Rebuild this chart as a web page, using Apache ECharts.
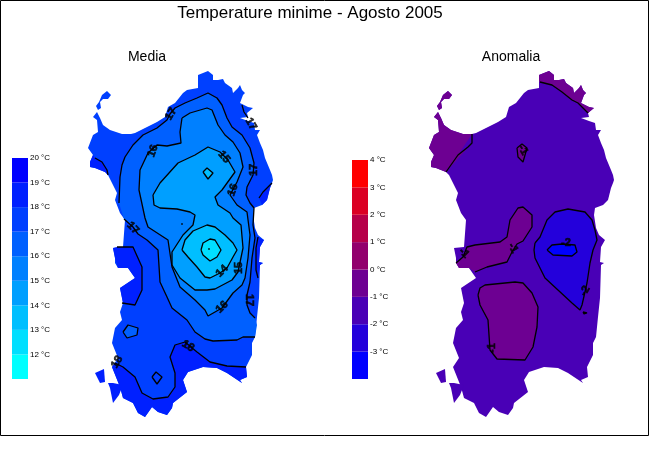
<!DOCTYPE html>
<html>
<head>
<meta charset="utf-8">
<style>html,body{margin:0;padding:0;background:#fff}#chart{width:650px;height:450px}</style>
<script src="https://cdn.jsdelivr.net/npm/echarts@6/dist/echarts.min.js"></script>
</head>
<body>
<div id="chart"></div>
<script>
// colour scales
const mediaLevels = [11, 12, 13, 14, 15, 16, 17, 18, 19, 20];
const mediaColors = ['#00ffff', '#00dfff', '#00bfff', '#009fff', '#0080ff', '#0060ff', '#0040ff', '#0020ff', '#0000ff'];
const anomLevels = [-4, -3, -2, -1, 0, 1, 2, 3, 4];
const anomColors = ['#0000ff', '#2400db', '#4900b6', '#6d0092', '#92006d', '#b60049', '#db0024', '#ff0000'];

// coastline (x, y in picture pixels)
const coastNW = [[105,172],[95,168],[90,167],[90,162],[93,155],[88,148],[93,135],[98,132],[97,120],[93,117],[97,112],[100,118],[103,125],[110,130],[122,134],[131,134]];
const coastN1 = [[135,133],[145,128],[157,122],[165,117],[168,107],[175,103],[183,93],[187,90],[198,88]];
const coastN = [[198,82],[198,75],[203,73],[208,71],[213,75],[213,80],[218,80],[223,79],[225,83],[232,88],[233,93],[238,88],[240,85],[242,90],[245,93],[243,95],[240,103],[248,107],[253,108],[247,113]];
const coastE = [[248,117],[240,118],[248,121],[254,123],[255,130],[260,130],[257,135],[260,143],[263,150],[265,158],[270,170],[272,175],[273,180],[272,183],[270,188],[267,200],[262,205],[254,208],[253,215],[255,228],[258,235],[264,240],[260,247],[259,262],[263,263],[260,265],[259,298],[257,317],[255,337],[252,343],[252,355]];
const coastS = [[246,367],[247,377],[240,380],[242,383],[227,373],[217,368],[203,367],[188,372],[183,380],[187,392],[173,403],[172,408],[167,415],[158,412],[152,407],[145,417],[138,413],[133,403],[123,398],[120,387],[112,367]];
const coastW = [[118,358],[112,343],[115,328],[122,320],[120,312],[123,303],[120,288],[135,278],[128,268],[118,268],[115,263],[115,258],[113,248],[123,247],[125,220],[120,213],[115,200],[117,193],[108,175]];
const asinara = [[107,91],[111,95],[108,99],[103,99],[100,102],[101,108],[98,110],[96,106],[99,102],[102,95]];
const santAntioco = [[108,383],[113,383],[123,385],[119,395],[113,403],[110,388]];
const sanPietro = [[95,373],[104,369],[105,382],[100,383]];
const island = [...coastNW, ...coastN1, ...coastN, ...coastE, ...coastS, ...coastW];

// contours of the mean
const c17North = [[119,203],[120,177],[122,165],[125,157],[133,145],[143,135],[157,128],[167,120],[170,114],[175,108],[185,103],[197,98],[208,93],[217,98],[222,105],[227,118],[232,127],[242,135],[250,148],[254,163],[253,175],[247,187],[246,195],[250,203],[254,208],[253,225],[255,238],[252,258],[250,282],[247,295],[247,305],[250,313],[255,318]];
const c17South = [[124,219],[133,227],[138,234],[147,240],[158,250],[160,282],[167,297],[172,308],[187,320],[195,332],[205,339],[213,341],[237,340],[243,337],[255,337]];
const c18South = [[115,363],[123,367],[135,377],[142,393],[153,399],[168,397],[175,387],[175,373],[170,357],[175,345],[185,342],[197,352],[210,362],[227,366],[246,367]];
const c18Gulf = [[117,247],[133,247],[142,267],[142,290],[135,305],[122,303]];
const c18Corner = [[95,158],[102,162],[107,170],[108,175]];
const c18East1 = [[259,198],[263,192],[272,183]];
const c18East2 = [[258,237],[256,248],[256,270],[258,278]];
const c18NorthEast = [[242,105],[244,112],[248,118]];
const c17Blob = [[123,332],[128,325],[138,328],[137,335],[127,338]];
const c18Diamond = [[152,377],[156,372],[162,377],[157,384]];
const c16Ring = [[182,118],[190,113],[207,108],[212,110],[218,125],[225,135],[233,142],[240,153],[243,167],[237,182],[230,195],[237,205],[247,212],[250,235],[248,258],[245,278],[242,285],[233,293],[222,308],[208,316],[205,310],[195,300],[180,287],[172,267],[168,240],[148,227],[145,218],[139,190],[140,170],[148,153],[157,145],[167,146],[181,143],[180,132]];
const c15Ring = [[153,195],[160,183],[178,163],[195,155],[208,147],[220,152],[228,160],[235,172],[222,190],[215,197],[218,205],[230,213],[233,218],[241,225],[243,248],[238,272],[232,280],[215,289],[207,290],[195,290],[180,278],[172,265],[172,252],[183,235],[193,225],[195,215],[190,212],[177,209],[160,208],[154,205]];
const c14Diamond = [[203,172],[207,168],[213,173],[208,179]];
const c14Ring = [[182,250],[185,240],[193,231],[207,225],[215,227],[225,235],[233,243],[237,250],[233,257],[227,268],[220,273],[210,278],[205,277],[197,267],[188,257]];
const c13Ring = [[201,250],[203,243],[210,239],[215,240],[221,250],[217,257],[210,261],[203,255]];
const mediaDots = [[209,249],[182,224]];

// contours of the anomaly
const a1NorthWest = [[131,134],[131,143],[127,147],[117,155],[105,172]];
const a1North = [[199,82],[211,85],[221,92],[231,100],[237,103],[242,108],[247,113]];
const a1Centre = [[176,148],[181,144],[186,148],[184,155],[182,162],[177,157]];
const a1Band = [[115,263],[122,257],[126,247],[134,245],[159,242],[166,237],[169,220],[177,208],[182,207],[191,215],[191,227],[182,241],[176,244],[171,252],[166,262],[146,267],[134,272]];
const a1South = [[137,295],[139,288],[144,285],[174,282],[182,283],[191,293],[197,307],[196,327],[192,347],[184,360],[156,359],[149,350],[147,320],[139,305]];
const a2Ring = [[194,243],[199,237],[206,220],[214,212],[227,209],[244,212],[251,220],[254,230],[256,240],[252,250],[249,263],[246,283],[241,305],[239,310],[231,303],[204,278],[194,258],[193,250]];
const a3Ring = [[206,250],[211,245],[221,244],[234,245],[236,252],[231,256],[212,255]];
const a2Tiny = [[242,312],[246,313],[243,314]];

// contour labels: x, y, text, rotation
const mediaLabels = [[171,114,'17',60],[153,151,'16',70],[224,157,'15',-50],[233,190,'16',70],[254,170,'17',90],[251,124,'17',-60],[133,228,'17',-45],[222,271,'14',45],[239,268,'15',90],[222,307,'16',45],[249,300,'17',-90],[188,346,'18',-30],[117,362,'18',60]];
const anomLabels = [[182,150,'-1',-60],[123,253,'-1',-45],[172,248,'-1',-60],[225,243,'-2',0],[244,291,'-2',60],[151,348,'-1',90]];

const closed = (pts) => [...pts, pts[0]];
const series = [];

function addFill(pts, color, idx) {
  series.push({
    type: 'custom', xAxisIndex: idx, yAxisIndex: idx, silent: true, clip: false,
    data: [pts[0]],
    renderItem: (params, api) => ({
      type: 'polygon',
      shape: { points: pts.map((p) => api.coord(p)) },
      style: { fill: color, stroke: null },
    }),
  });
}

function addLine(pts, idx) {
  series.push({
    type: 'line', xAxisIndex: idx, yAxisIndex: idx, silent: true, clip: false, showSymbol: false,
    lineStyle: { color: '#000', width: 1.3 },
    data: pts,
  });
}

function addLabels(labels, idx) {
  series.push({
    type: 'scatter', xAxisIndex: idx, yAxisIndex: idx, silent: true, clip: false, symbolSize: 0,
    data: labels.map((l) => ({
      value: [l[0], l[1]],
      label: {
        show: true, position: 'inside', formatter: l[2], rotate: l[3], color: '#000',
        fontSize: 11, fontWeight: 'bold', fontFamily: 'Liberation Sans', textBorderColor: '#000', textBorderWidth: 0.6,
      },
    })),
  });
}

function addScale(levels, colors, idx) {
  series.push({
    type: 'custom', xAxisIndex: idx, yAxisIndex: idx, silent: true,
    data: colors.map((c, i) => [levels[i], levels[i + 1]]),
    renderItem: (params, api) => {
      const a = api.coord([0, api.value(0)]);
      const b = api.coord([1, api.value(1)]);
      return {
        type: 'rect',
        shape: { x: a[0], y: b[1], width: b[0] - a[0], height: a[1] - b[1] },
        style: { fill: colors[params.dataIndex] },
      };
    },
  });
}

// left map: mean
const M = 0;
[island, asinara].forEach((p) => addFill(p, mediaColors[6], M));
[santAntioco, sanPietro].forEach((p) => addFill(p, mediaColors[7], M));
addFill([...c18South, ...coastS], mediaColors[7], M);
addFill([...c18Gulf, [123,303],[120,288],[135,278],[128,268],[118,268],[115,258],[113,248]], mediaColors[7], M);
addFill([...c18Corner, [105,172],[95,168],[90,167],[90,162],[93,155]], mediaColors[7], M);
addFill([...c18East1, [270,188],[267,200],[262,205]], mediaColors[7], M);
addFill([...c18East2, [260,265],[263,263],[259,262],[260,247],[264,240]], mediaColors[7], M);
addFill([...c17North, [257,325], ...[...c17South].reverse()], mediaColors[5], M);
addFill(c17Blob, mediaColors[5], M);
addFill(c18Diamond, mediaColors[6], M);
addFill(c16Ring, mediaColors[4], M);
addFill(c15Ring, mediaColors[3], M);
addFill(c14Diamond, mediaColors[2], M);
addFill(c14Ring, mediaColors[2], M);
addFill(c13Ring, mediaColors[1], M);
[c17North, c17South, c18South, c18Gulf, c18Corner, c18East1, c18East2, c18NorthEast].forEach((p) => addLine(p, M));
[c17Blob, c18Diamond, c16Ring, c15Ring, c14Diamond, c14Ring, c13Ring].forEach((p) => addLine(closed(p), M));
series.push({
  type: 'scatter', xAxisIndex: M, yAxisIndex: M, silent: true, symbolSize: 2,
  itemStyle: { color: '#000' },
  data: mediaDots,
});
addLabels(mediaLabels, M);

// right map: anomaly
const A = 1;
[island, asinara, santAntioco, sanPietro].forEach((p) => addFill(p, anomColors[2], A));
addFill(asinara, anomColors[3], A);
addFill([...coastNW, ...[...a1NorthWest].reverse().slice(1, -1)], anomColors[3], A);
addFill([...coastN, ...[...a1North].reverse().slice(1)], anomColors[3], A);
addFill([...a1Band, [128,268],[118,268]], anomColors[3], A);
addFill(a1Centre, anomColors[3], A);
addFill(a1South, anomColors[3], A);
addFill(a2Ring, anomColors[1], A);
addFill(a3Ring, anomColors[0], A);
[a1NorthWest, a1North, a1Band].forEach((p) => addLine(p, A));
[a1Centre, a1South, a2Ring, a3Ring, a2Tiny].forEach((p) => addLine(closed(p), A));
addLabels(anomLabels, A);

addScale(mediaLevels, mediaColors, 2);
addScale(anomLevels, anomColors, 3);

const mapX = (gridIndex) => ({ type: 'value', gridIndex, min: 80, max: 280, show: false });
const mapY = (gridIndex) => ({ type: 'value', gridIndex, min: 60, max: 430, inverse: true, show: false });
const barX = (gridIndex) => ({ type: 'value', gridIndex, min: 0, max: 1, show: false });
const barY = (gridIndex, levels) => ({
  type: 'value', gridIndex, position: 'right', min: levels[0], max: levels[levels.length - 1], interval: 1,
  splitLine: { show: false }, axisLine: { show: false }, axisTick: { show: false },
  axisLabel: {
    margin: 2, fontSize: 8, color: '#000', fontFamily: 'Liberation Sans',
    formatter: (v) => (v === levels[0] ? '' : v + ' °C'),
  },
});

const titleStyle = (fontSize) => ({ fontSize, fontWeight: 'normal', color: '#000', fontFamily: 'Liberation Sans' });

const chart = echarts.init(document.getElementById('chart'), null, { renderer: 'canvas' });
chart.setOption({
  animation: false,
  backgroundColor: '#fff',
  title: [
    { text: 'Temperature minime - Agosto 2005', left: 310, top: 5, padding: 0, textAlign: 'center', textStyle: titleStyle(17) },
    { text: 'Media', left: 147, top: 50, padding: 0, textAlign: 'center', textStyle: titleStyle(14) },
    { text: 'Anomalia', left: 511, top: 50, padding: 0, textAlign: 'center', textStyle: titleStyle(14) },
  ],
  graphic: [{ type: 'rect', shape: { x: 0.5, y: 0.5, width: 648, height: 435 }, style: { fill: null, stroke: '#000', lineWidth: 1 }, silent: true }],
  grid: [
    { left: 80, top: 60, width: 200, height: 370 },
    { left: 421, top: 60, width: 200, height: 370 },
    { left: 12, top: 158, width: 16, height: 221 },
    { left: 352, top: 160, width: 16, height: 219 },
  ],
  xAxis: [mapX(0), mapX(1), barX(2), barX(3)],
  yAxis: [mapY(0), mapY(1), barY(2, mediaLevels), barY(3, anomLevels)],
  series,
});
</script>
</body>
</html>
